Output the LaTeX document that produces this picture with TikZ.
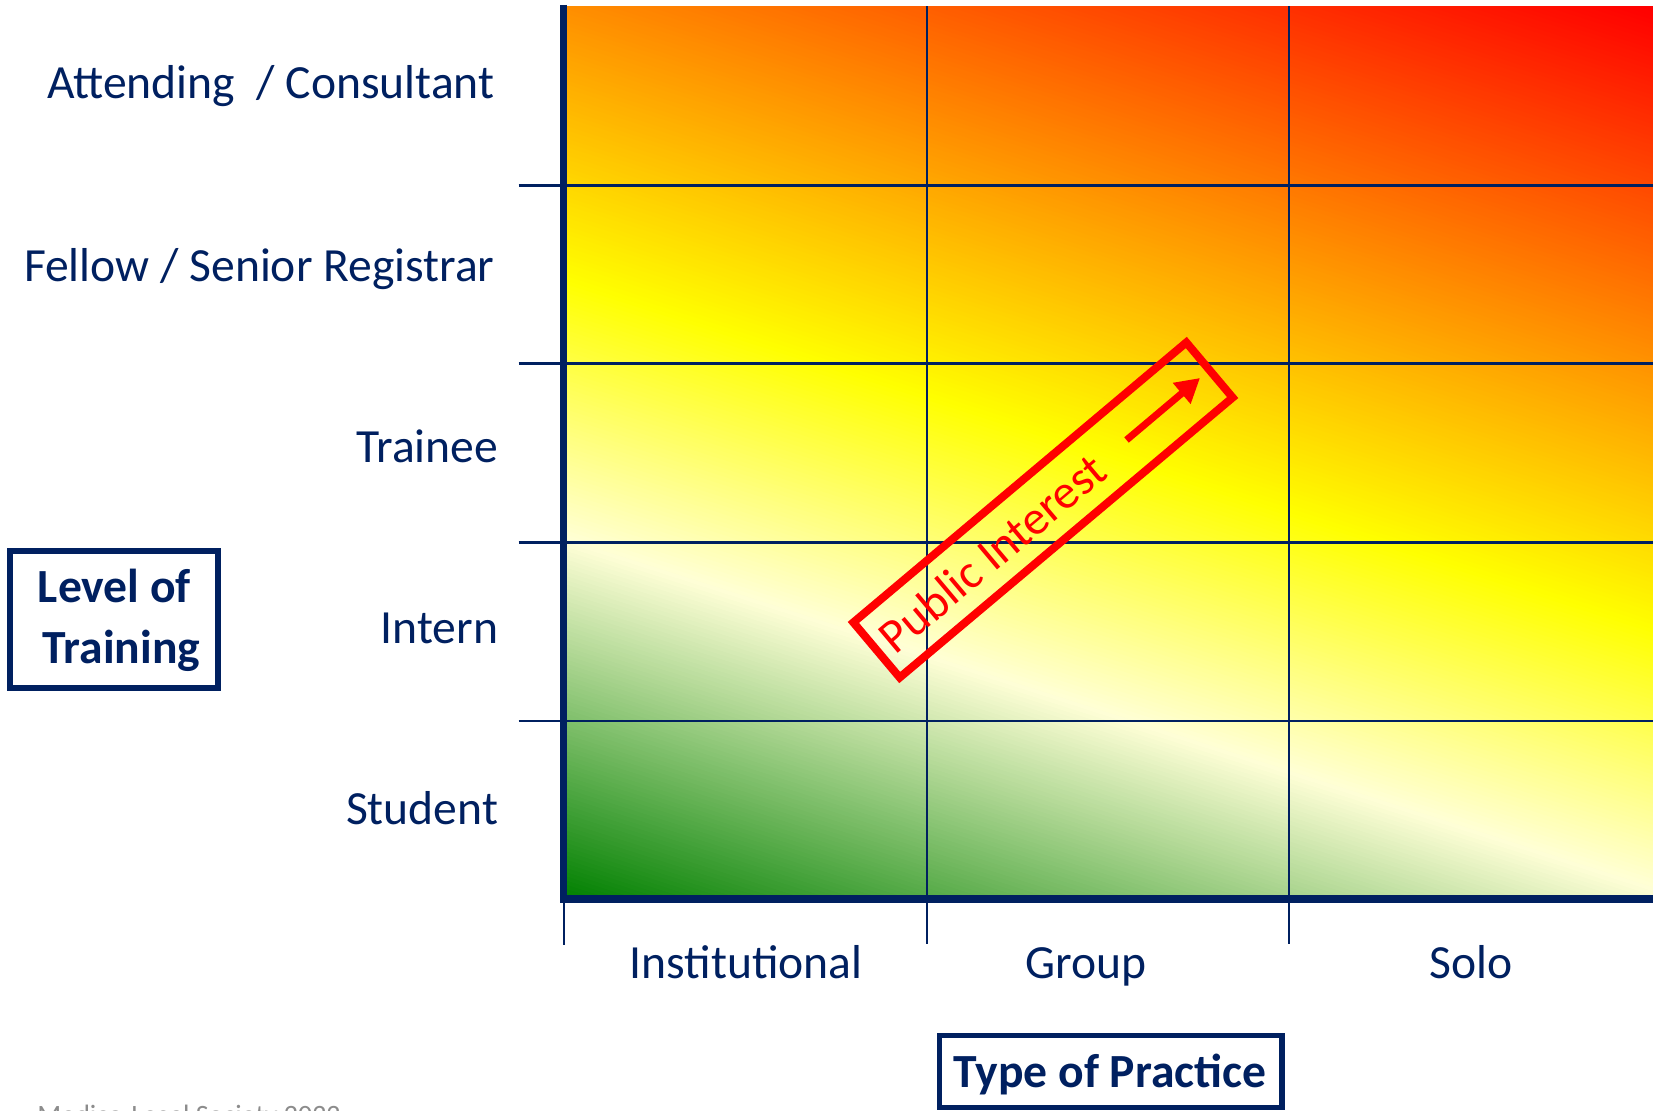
\documentclass[tikz,border=0pt]{standalone}
\usepackage{fontspec}
\setmainfont{Carlito}
\usetikzlibrary{arrows.meta}
\definecolor{navy}{RGB}{0,32,96}
\definecolor{pired}{RGB}{255,0,0}
\definecolor{footgray}{RGB}{140,140,140}
\tikzset{
  gridline/.style={navy, line width=1.3pt},
  axisline/.style={navy, line width=3.75pt},
  rowlab/.style={anchor=base east, inner sep=0pt, text=navy, font=\fontsize{23.8}{28}\selectfont},
  collab/.style={anchor=base, inner sep=0pt, text=navy, font=\fontsize{23.8}{28}\selectfont},
  titlebox/.style={draw=navy, line width=2.75pt, inner sep=0pt},
  titletext/.style={anchor=base, inner sep=0pt, text=navy, font=\bfseries\fontsize{23.8}{28}\selectfont},
  pistyle/.style={draw=pired, line width=4pt, line join=miter, rotate=40.06, inner sep=0pt},
}
\begin{document}
\begin{tikzpicture}[x=0.5pt, y=-0.5pt]
\useasboundingbox (0,0) rectangle (1653,1111);
% gradient background
\begin{scope}
  \clip (563,6.5) rectangle (1653,898);
  \foreach \i in {0,...,299}{
    \pgfmathsetmacro\ca{-5+\i*4.17}
    \pgfmathsetmacro\cb{\ca+5.2}
    \pgfmathsetmacro\gt{min(1,max(0,(\ca+2.08)/1241))}
    \pgfmathtruncatemacro\R{\gt<0.29 ? 255*\gt/0.29 : 255}
    \pgfmathtruncatemacro\G{\gt<0.29 ? 128+127*\gt/0.29 : (\gt<0.5 ? 255 : 255*(1-\gt)/0.5)}
    \pgfmathtruncatemacro\B{\gt<0.29 ? 215*\gt/0.29 : (\gt<0.5 ? 215*(0.5-\gt)/0.21 : 0)}
    \definecolor{stripc}{RGB}{\R,\G,\B}
    \fill[stripc] (555,{897-\ca}) -- (1665,{1253-\ca}) -- (1665,{1253-\cb}) -- (555,{897-\cb}) -- cycle;
  }
\end{scope}
% grid lines
\foreach \y in {185.5,363.7,542.5,721}{
  \draw[gridline] (518.5,\y) -- (1653,\y);
}
\foreach \x in {927,1289}{
  \draw[gridline] (\x,6.5) -- (\x,944);
}
\draw[gridline] (564,898) -- (564,945);
% axes
\draw[axisline] (563.5,5) -- (563.5,902.5);
\draw[axisline] (561.5,899) -- (1653,899);
% row labels
\node[rowlab] (att) at (495,99) {Attending~ / Consultant};
\node[rowlab] (fel) at (495,282) {Fellow / Senior Registrar};
\node[rowlab] (tra) at (498.5,463) {Trainee};
\node[rowlab] (int) at (498.5,644) {Intern};
\node[rowlab] (stu) at (498.5,824) {Student};
% column labels
\node[collab] (ins) at (746,978) {Institutional};
\node[collab] (grp) at (1086,978) {Group};
\node[collab] (sol) at (1471,978) {Solo};
% axis titles
\node[titlebox, minimum width=104pt, minimum height=68.5pt] (lotbox) at (114,619.5) {};
\node[titletext] (lot1) at (114.5,603) {Level of};
\node[titletext] (lot2) at (121.5,663) {Training};
\node[titlebox, minimum width=171.25pt, minimum height=36pt] (topbox) at (1110.75,1071.5) {};
\node[titletext] (top) at (1110,1087) {Type of Practice};
% public interest
\node[pistyle, minimum width=217.5pt, minimum height=36pt] (pibox) at (1043,510) {};
\node[rotate=40.06, inner sep=0pt, text=pired, font=\fontsize{24}{28}\selectfont] (pitext) at (992,553) {Public Interest};
\coordinate (arS) at (1126.5,440);
\coordinate (arE) at (1200,378);
\draw[pired, line width=3.5pt, -{Triangle[length=12pt,width=13pt]}] (arS) -- (arE);
% footer (cut off)
\node[anchor=base west, inner sep=0pt, text=footgray, font=\fontsize{14}{16}\selectfont] (foot) at (37,1124) {Medico-Legal Society 2022};
\end{tikzpicture}
\end{document}
